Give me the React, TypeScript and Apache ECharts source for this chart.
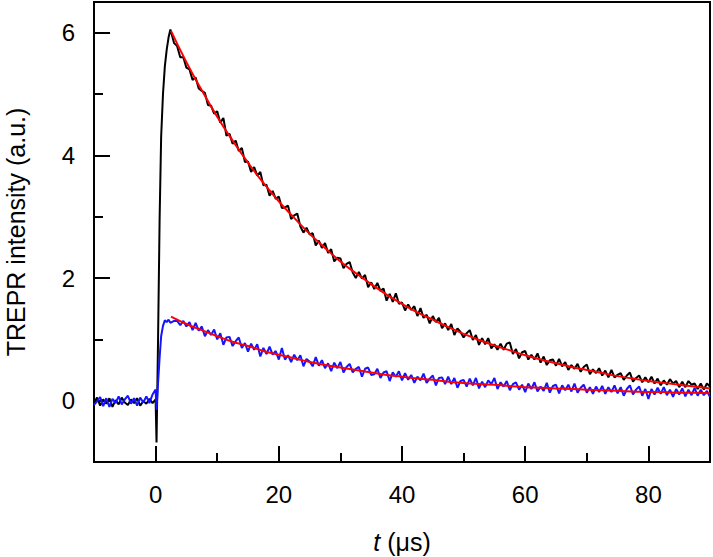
import { useEffect, useRef } from "react";
import * as echarts from "echarts";

// time sampling of the recorded traces (µs)
const PRE_START = -10;
const DECAY_START = 3;
const STEP = 0.5;
const FIT_START = 2.5;
const FIT_STEP = 2.5;

// pre-trigger baseline, t = -10 … -0.5
const blackPre = [-0.03, 0.05, -0.08, 0.02, -0.05, 0.04, -0.1, 0.01, -0.06, 0.05, -0.03, -0.07, 0.02, -0.04, 0.04, -0.08, -0.01, -0.05, 0.03, -0.04];
const bluePre = [-0.07, -0.01, 0.06, -0.09, 0.04, -0.1, 0.03, -0.04, 0.07, -0.06, 0.02, 0.08, -0.05, 0.04, -0.08, 0.05, -0.03, 0.07, -0.04, 0.1];

// rise after the laser flash
const riseT = [0, 0.15, 0.4, 0.65, 0.9, 1.2, 1.5, 1.8, 2.1, 2.4];
const blackRise = [0.02, -0.68, 1.0, 2.95, 4.3, 5.0, 5.45, 5.72, 5.92, 6.05];
const blueRise = [0.18, -0.15, 0.29, 0.7, 1.05, 1.22, 1.31, 1.28, 1.32, 1.27];

// decay, t = 3 … 90
const blackDecay = [
  5.83, 5.78, 5.6, 5.6, 5.43,
  5.4, 5.23, 5.27, 5.09, 5.05,
  5.02, 4.82, 4.81, 4.68, 4.72,
  4.53, 4.61, 4.32, 4.35, 4.19,
  4.24, 4.07, 4.12, 3.89, 3.9,
  3.73, 3.81, 3.67, 3.73, 3.51,
  3.52, 3.34, 3.42, 3.29, 3.33,
  3.14, 3.15, 3.18, 2.96, 3.02,
  3.05, 2.84, 2.74, 2.82, 2.71,
  2.73, 2.53, 2.61, 2.49, 2.57,
  2.41, 2.47, 2.27, 2.33, 2.32,
  2.16, 2.23, 2.26, 2.09, 2.0,
  2.1, 1.99, 2.05, 1.85, 1.93,
  1.82, 1.92, 1.79, 1.83, 1.63,
  1.74, 1.61, 1.75, 1.58, 1.6,
  1.47, 1.57, 1.48, 1.54, 1.38,
  1.51, 1.35, 1.4, 1.26, 1.38,
  1.28, 1.35, 1.18, 1.26, 1.15,
  1.25, 1.07, 1.18, 1.12, 1.03,
  1.1, 1.15, 0.99, 1.07, 0.91,
  1.02, 0.92, 1.02, 0.85, 0.92,
  0.83, 0.93, 0.83, 0.93, 0.95,
  0.76, 0.84, 0.69, 0.79, 0.81,
  0.67, 0.75, 0.67, 0.77, 0.62,
  0.72, 0.58, 0.66, 0.67, 0.57,
  0.68, 0.56, 0.63, 0.5, 0.58,
  0.52, 0.6, 0.47, 0.55, 0.59,
  0.43, 0.51, 0.45, 0.53, 0.41,
  0.49, 0.38, 0.5, 0.38, 0.42,
  0.45, 0.34, 0.41, 0.46, 0.31,
  0.37, 0.41, 0.3, 0.38, 0.3,
  0.39, 0.28, 0.36, 0.25, 0.33,
  0.26, 0.35, 0.28, 0.32, 0.22,
  0.31, 0.22, 0.32, 0.26, 0.28,
  0.19, 0.28, 0.18, 0.28, 0.23,
];
const blueDecay = [
  1.3, 1.3, 1.23, 1.3, 1.21,
  1.28, 1.15, 1.27, 1.14, 1.21,
  1.05, 1.15, 1.07, 1.16, 1.0,
  1.1, 0.91, 1.03, 1.04, 0.89,
  0.97, 1.03, 0.86, 0.94, 0.8,
  0.93, 0.83, 0.92, 0.72, 0.86,
  0.76, 0.88, 0.75, 0.81, 0.67,
  0.86, 0.67, 0.74, 0.63, 0.75,
  0.66, 0.74, 0.56, 0.68, 0.64,
  0.56, 0.71, 0.57, 0.66, 0.53,
  0.61, 0.48, 0.62, 0.53, 0.63,
  0.46, 0.55, 0.6, 0.46, 0.52,
  0.55, 0.39, 0.52, 0.54, 0.42,
  0.43, 0.52, 0.37, 0.46, 0.48,
  0.32, 0.46, 0.39, 0.48, 0.33,
  0.45, 0.34, 0.42, 0.29, 0.39,
  0.33, 0.44, 0.29, 0.36, 0.41,
  0.25, 0.37, 0.38, 0.27, 0.39,
  0.27, 0.37, 0.21, 0.32, 0.34,
  0.23, 0.36, 0.25, 0.37, 0.2,
  0.31, 0.22, 0.33, 0.27, 0.37,
  0.19, 0.3, 0.23, 0.32, 0.17,
  0.27, 0.3, 0.18, 0.26, 0.14,
  0.28, 0.19, 0.3, 0.15, 0.23,
  0.16, 0.29, 0.13, 0.24, 0.26,
  0.12, 0.25, 0.17, 0.26, 0.15,
  0.28, 0.13, 0.21, 0.26, 0.13,
  0.22, 0.11, 0.23, 0.14, 0.24,
  0.11, 0.22, 0.14, 0.25, 0.12,
  0.22, 0.08, 0.19, 0.25, 0.1,
  0.18, 0.23, 0.08, 0.19, 0.03,
  0.19, 0.1, 0.21, 0.11, 0.22,
  0.09, 0.18, 0.06, 0.19, 0.1,
  0.2, 0.07, 0.18, 0.09, 0.21,
  0.08, 0.18, 0.09, 0.16, 0.06,
];

// mono-exponential fits, t = 2.5 … 90
const blackFit = [6.03, 5.52, 5.06, 4.63, 4.24, 3.88, 3.55, 3.25, 2.98, 2.72, 2.49, 2.27, 2.08, 1.9, 1.73, 1.58, 1.44, 1.32, 1.2, 1.09, 0.99, 0.9, 0.82, 0.74, 0.67, 0.61, 0.55, 0.5, 0.45, 0.4, 0.36, 0.32, 0.29, 0.26, 0.23, 0.2];
const blueFit = [1.37, 1.25, 1.15, 1.05, 0.96, 0.89, 0.81, 0.75, 0.69, 0.63, 0.58, 0.54, 0.5, 0.46, 0.42, 0.39, 0.36, 0.34, 0.31, 0.29, 0.27, 0.26, 0.24, 0.22, 0.21, 0.2, 0.19, 0.18, 0.17, 0.16, 0.15, 0.14, 0.14, 0.13, 0.13, 0.12];

const xMajor = [0, 20, 40, 60, 80];
const xMinor = [10, 30, 50, 70];
const yMajor = [0, 2, 4, 6];
const yMinor = [1, 3, 5];

const FONT = "Liberation Sans, Arial, Helvetica, sans-serif";

function trace(pre: number[], rise: number[], decay: number[]): number[][] {
  const out: number[][] = [];
  pre.forEach((v, i) => out.push([PRE_START + i * STEP, v]));
  rise.forEach((v, i) => out.push([riseT[i], v]));
  decay.forEach((v, i) => out.push([DECAY_START + i * STEP, v]));
  return out;
}
function fit(vals: number[]): number[][] {
  return vals.map((v, i) => [FIT_START + i * FIT_STEP, v]);
}

export default function App() {
  const ref = useRef<HTMLDivElement>(null);
  useEffect(() => {
    if (!ref.current) return;
    const chart = echarts.init(ref.current, undefined, { renderer: "svg" });
    const tickStyle = { color: "#000", width: 2 };
    const baseX = { type: "value", position: "bottom", min: -10, max: 90, splitLine: { show: false } };
    const baseY = { type: "value", position: "left", min: -1, max: 6.5, splitLine: { show: false } };
    chart.setOption({
      animation: false,
      backgroundColor: "#fff",
      grid: {
        left: 94,
        right: 3,
        top: 2,
        bottom: 95,
        containLabel: false,
        outerBoundsMode: "none",
        show: true,
        borderColor: "#000",
        borderWidth: 2,
      },
      xAxis: [
        {
          ...baseX,
          axisLine: { show: true, onZero: false, lineStyle: tickStyle },
          axisTick: { show: true, inside: true, length: 16, lineStyle: tickStyle, customValues: xMajor },
          axisLabel: { customValues: xMajor, fontSize: 24, color: "#000", margin: 20, fontFamily: FONT },
          name: "{i|t} (μs)",
          nameLocation: "middle",
          nameGap: 67,
          nameTextStyle: {
            fontSize: 25,
            color: "#000",
            fontFamily: FONT,
            rich: { i: { fontStyle: "italic", fontSize: 25, color: "#000", fontFamily: FONT } },
          },
        },
        {
          ...baseX,
          axisLine: { show: false, onZero: false },
          axisTick: { show: true, inside: true, length: 9, lineStyle: tickStyle, customValues: xMinor },
          axisLabel: { show: false },
        },
      ],
      yAxis: [
        {
          ...baseY,
          axisLine: { show: true, onZero: false, lineStyle: tickStyle },
          axisTick: { show: true, inside: true, length: 16, lineStyle: tickStyle, customValues: yMajor },
          axisLabel: { customValues: yMajor, fontSize: 24, color: "#000", margin: 19, fontFamily: FONT },
          name: "TREPR intensity (a.u.)",
          nameLocation: "middle",
          nameGap: 66,
          nameTextStyle: { fontSize: 25, color: "#000", fontFamily: FONT },
        },
        {
          ...baseY,
          axisLine: { show: false, onZero: false },
          axisTick: { show: true, inside: true, length: 9, lineStyle: tickStyle, customValues: yMinor },
          axisLabel: { show: false },
        },
      ],
      series: [
        {
          type: "line",
          data: trace(blackPre, blackRise, blackDecay),
          showSymbol: false,
          symbol: "none",
          lineStyle: { color: "#000", width: 2 },
          z: 2,
        },
        {
          type: "line",
          data: trace(bluePre, blueRise, blueDecay),
          showSymbol: false,
          symbol: "none",
          lineStyle: { color: "#1414ff", width: 2 },
          z: 3,
        },
        {
          type: "line",
          data: fit(blackFit),
          smooth: true,
          showSymbol: false,
          symbol: "none",
          lineStyle: { color: "#ff0000", width: 2 },
          z: 4,
        },
        {
          type: "line",
          data: fit(blueFit),
          smooth: true,
          showSymbol: false,
          symbol: "none",
          lineStyle: { color: "#ff0000", width: 2 },
          z: 4,
        },
      ],
    });
    return () => chart.dispose();
  }, []);
  return <div ref={ref} style={{ position: "fixed", left: 0, top: 0, width: 713, height: 557 }} />;
}
